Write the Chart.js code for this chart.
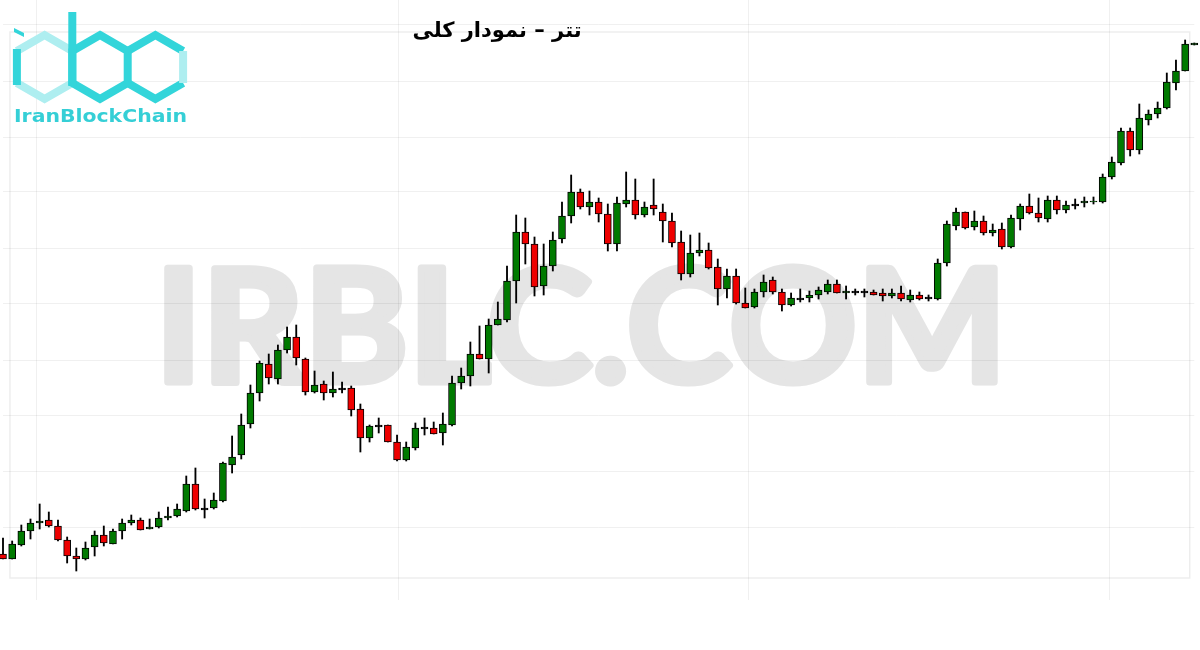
<!DOCTYPE html>
<html>
<head>
<meta charset="utf-8">
<script src="https://cdn.jsdelivr.net/npm/chart.js@4.4.1/dist/chart.umd.min.js"></script>
<style>
html,body{margin:0;padding:0;background:#fff;}
#wrap{position:relative;width:1200px;height:650px;overflow:hidden;background:#fff;}
#wm,#logo,canvas{position:absolute;left:0;top:0;}
#title{position:absolute;left:397px;top:17px;width:200px;text-align:center;font-family:"DejaVu Sans",sans-serif;font-weight:bold;font-size:21px;line-height:27px;color:#000;white-space:nowrap;}
</style>
</head>
<body>
<div id="wrap">
<svg id="wm" width="1200" height="650">
  <text x="155" y="382" font-family="Lato, 'DejaVu Sans', sans-serif" font-weight="bold" font-size="158" fill="#e5e5e5" stroke="#e5e5e5" stroke-width="7" stroke-linejoin="round" textLength="852" lengthAdjust="spacingAndGlyphs">IRBLC.COM</text>
</svg>
<canvas id="c" width="1200" height="650"></canvas>
<svg id="logo" width="200" height="130">
  <g fill="none" stroke-width="8" stroke-linejoin="miter">
    <polyline points="16.9,51 44.6,35 72.3,51" stroke="#aeeef0"/>
    <polyline points="16.9,83 44.6,99 72.3,83" stroke="#aeeef0"/>
    <line x1="16.9" y1="49" x2="16.9" y2="85" stroke="#33d5da"/>
    <polygon points="100,35 127.7,51 127.7,83 100,99 72.3,83 72.3,51" stroke="#33d5da"/>
    <polyline points="127.7,51 155.4,35 183.1,51" stroke="#33d5da"/>
    <polyline points="127.7,83 155.4,99 183.1,83" stroke="#33d5da"/>
    <line x1="183.1" y1="51" x2="183.1" y2="83" stroke="#aeeef0"/>
  </g>
  <rect x="68.3" y="12" width="8" height="74" fill="#33d5da"/>
  <polygon points="14,28 24,33 24,37 14,32" fill="#33d5da"/>
  <text x="14" y="122" font-family="'DejaVu Sans', sans-serif" font-weight="bold" font-size="17" fill="#35cfd6" textLength="173" lengthAdjust="spacingAndGlyphs">IranBlockChain</text>
</svg>
<div id="title" dir="rtl">تتر – نمودار کلی</div>
</div>
<script>
const opens  = [46,41,55,69,77,80,74,60,44,41,53,65,56,69,77,80,71,73,82,84,89,116,91,92,99,135,145,176,207,236,221,250,263,241,208,216,207,211,212,191,162,174,175,158,140,152,172,172,167,175,217,224,246,241,275,280,319,368,356,314,334,361,384,408,393,398,386,356,396,400,385,395,388,379,358,326,347,350,333,311,324,297,293,308,320,308,295,301,302,305,308,316,307,308,308,308,307,304,307,300,305,302,301,337,374,388,373,379,367,371,353,381,394,387,381,400,390,395,397,398,398,423,437,469,450,480,486,492,517,529,555];
const highs  = [62,59,75,81,96,88,80,63,52,58,69,74,71,81,85,82,81,88,93,96,124,132,101,107,138,164,186,215,239,246,255,273,275,242,229,219,228,218,214,196,175,182,175,165,158,177,182,178,187,224,232,258,274,281,298,334,385,382,363,356,368,398,425,411,409,402,396,403,428,421,398,421,396,387,369,365,367,357,341,331,331,312,311,325,323,311,307,311,309,313,320,320,314,311,311,310,311,311,314,310,308,305,341,379,392,388,389,384,376,377,385,396,406,402,404,404,399,401,403,403,426,443,472,472,496,490,498,527,540,560,557];
const lows   = [41,41,54,61,71,73,59,37,29,40,44,54,56,61,75,70,71,72,80,83,88,90,82,91,98,127,141,172,199,216,216,247,235,205,207,200,203,207,184,148,158,167,158,139,139,150,165,166,155,174,211,214,241,227,275,278,297,336,304,305,329,357,377,391,385,378,349,349,393,381,383,385,358,353,320,323,344,331,295,302,296,292,292,303,306,289,294,298,298,301,306,307,301,305,303,305,299,302,299,298,300,299,300,334,370,371,370,365,364,351,352,370,386,378,378,386,387,391,393,396,397,421,435,444,446,475,482,491,510,529,555];
const closes = [41,56,69,77,79,74,60,44,41,52,65,57,69,77,80,70,73,82,84,91,116,91,91,100,137,143,175,207,237,222,250,263,242,208,215,207,211,211,190,162,174,174,158,140,153,172,172,166,176,217,224,246,241,275,281,319,368,356,313,334,360,384,408,393,398,386,356,397,400,385,393,391,379,357,326,347,350,332,311,324,297,292,308,318,308,295,302,301,305,310,316,307,309,308,308,305,304,307,301,305,301,302,337,376,388,372,379,367,370,353,382,394,387,382,400,390,395,395,399,399,423,438,469,450,482,486,492,518,529,556,557];
const gridYValues = [73,129,185,240,296,352,408,463,519,575];
const gridXValues = [3.7,43.2,81.3,120.8];
const frameX = [0.76,129.5];
const frameY = [22,568];

const idx = opens.map((_, i) => i);
const wickData = idx.map(i => ({x: i, y: [lows[i], highs[i]]}));
const bodyData = idx.map(i => {
  const o = opens[i], c = closes[i];
  if (o === c) return {x: i, y: [o - 1, o + 1]};
  return {x: i, y: [o, c]};
});
const bodyColors = idx.map(i => closes[i] > opens[i] ? '#007a00' : (closes[i] < opens[i] ? '#ee0000' : '#000000'));

const framePlugin = {
  id: 'frame',
  beforeDatasetsDraw(chart) {
    const {ctx, scales: {x, y}} = chart;
    const l = x.getPixelForValue(frameX[0]), r = x.getPixelForValue(frameX[1]);
    const t = y.getPixelForValue(frameY[1]), b = y.getPixelForValue(frameY[0]);
    ctx.save();
    ctx.strokeStyle = 'rgba(0,0,0,0.07)';
    ctx.lineWidth = 1.5;
    ctx.strokeRect(l, t, r - l, b - t);
    ctx.restore();
  }
};

new Chart(document.getElementById('c'), {
  type: 'bar',
  data: {
    datasets: [
      {label: 'body', data: bodyData, backgroundColor: bodyColors, borderColor: '#000', borderWidth: 1, borderSkipped: false, barThickness: 7, grouped: false, order: 0, clip: false},
      {label: 'wick', data: wickData, backgroundColor: '#000', borderWidth: 0, barThickness: 1.2, grouped: false, order: 1, clip: false}
    ]
  },
  options: {
    responsive: false,
    animation: false,
    layout: {padding: {left: 3, right: 5.7, top: 0, bottom: 50}},
    plugins: {legend: {display: false}, tooltip: {enabled: false}, title: {display: false}},
    scales: {
      x: {
        type: 'linear', min: 0, max: 130, offset: false,
        afterBuildTicks: s => { s.ticks = gridXValues.map(v => ({value: v})); },
        afterFit: s => { s.height = 0; },
        ticks: {display: false},
        grid: {color: 'rgba(0,0,0,0.06)', drawTicks: false, offset: false},
        border: {display: false}
      },
      y: {
        min: 0, max: 600,
        afterBuildTicks: s => { s.ticks = gridYValues.map(v => ({value: v})); },
        afterFit: s => { s.width = 0; },
        ticks: {display: false},
        grid: {color: 'rgba(0,0,0,0.06)', drawTicks: false},
        border: {display: false}
      }
    }
  },
  plugins: [framePlugin]
});
</script>
</body>
</html>
